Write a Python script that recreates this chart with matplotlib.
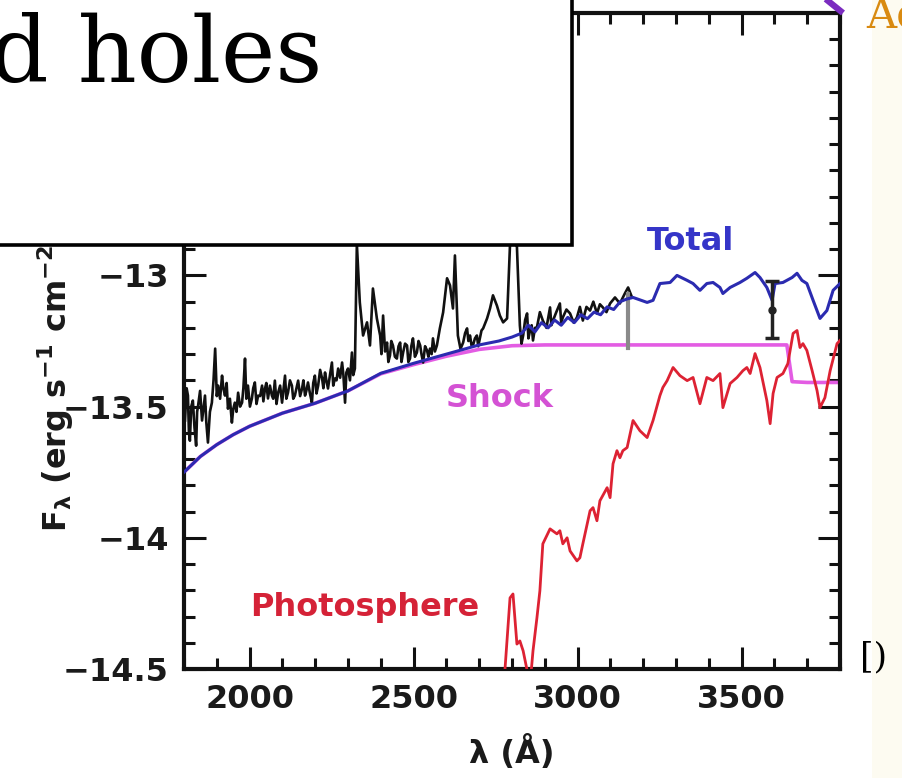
import matplotlib
matplotlib.use("Agg")
import matplotlib.pyplot as plt
from matplotlib.patches import Rectangle
from matplotlib.lines import Line2D
from matplotlib.ticker import MultipleLocator

# ---------------- data ----------------
# observed spectrum (wavelength in Angstrom, log flux)
obs_wave = [1803, 1808, 1812, 1815, 1818, 1822, 1827, 1832, 1837, 1840, 1843, 1849,
            1855, 1860, 1864, 1868, 1873, 1879, 1885, 1890, 1895, 1900, 1904, 1910,
            1916, 1920, 1925, 1930, 1934, 1940, 1946, 1950, 1955, 1960, 1965, 1971,
            1977, 1981, 1986, 1990, 1995, 2001, 2007, 2011, 2016, 2021, 2026, 2032,
            2038, 2042, 2047, 2051, 2056, 2062, 2068, 2072, 2077, 2082, 2087, 2093,
            2099, 2103, 2108, 2112, 2117, 2123, 2129, 2133, 2138, 2143, 2148, 2154,
            2160, 2164, 2169, 2173, 2178, 2184, 2190, 2194, 2199, 2204, 2209, 2215,
            2221, 2225, 2230, 2234, 2239, 2245, 2251, 2255, 2260, 2265, 2270, 2276,
            2282, 2286, 2291, 2295, 2300, 2306, 2312, 2316, 2321, 2327, 2336, 2346,
            2358, 2367, 2376, 2388, 2398, 2402, 2407, 2413, 2419, 2423, 2428, 2432,
            2437, 2443, 2449, 2454, 2459, 2463, 2468, 2474, 2480, 2484, 2489, 2493,
            2498, 2504, 2510, 2515, 2520, 2524, 2529, 2535, 2541, 2545, 2550, 2555,
            2559, 2565, 2571, 2580, 2590, 2602, 2611, 2620, 2626, 2635, 2643, 2651,
            2657, 2663, 2667, 2672, 2677, 2681, 2687, 2693, 2697, 2702, 2707, 2712,
            2724, 2733, 2742, 2754, 2763, 2773, 2785, 2794, 2803, 2815, 2824, 2829,
            2834, 2840, 2846, 2850, 2855, 2860, 2864, 2870, 2876, 2885, 2894, 2905,
            2916, 2920, 2925, 2935, 2946, 2950, 2955, 2966, 2977, 2988, 2998, 3007,
            3016, 3027, 3038, 3048, 3059, 3068, 3077, 3088, 3099, 3114, 3129, 3144,
            3154, 3166]
obs_flux = [-13.553, -13.430, -13.458, -13.600, -13.630, -13.500, -13.477, -13.580,
            -13.649, -13.520, -13.496, -13.440, -13.553, -13.500, -13.458, -13.560,
            -13.637, -13.520, -13.485, -13.400, -13.279, -13.460, -13.420, -13.470,
            -13.382, -13.430, -13.458, -13.410, -13.508, -13.470, -13.561, -13.510,
            -13.485, -13.520, -13.447, -13.500, -13.485, -13.430, -13.317, -13.470,
            -13.420, -13.500, -13.469, -13.430, -13.408, -13.490, -13.458, -13.460,
            -13.420, -13.480, -13.431, -13.410, -13.469, -13.420, -13.458, -13.470,
            -13.401, -13.490, -13.447, -13.420, -13.485, -13.440, -13.382, -13.470,
            -13.447, -13.400, -13.420, -13.470, -13.458, -13.430, -13.401, -13.460,
            -13.431, -13.400, -13.458, -13.440, -13.408, -13.450, -13.485, -13.410,
            -13.382, -13.450, -13.420, -13.360, -13.393, -13.430, -13.370, -13.400,
            -13.431, -13.380, -13.332, -13.420, -13.393, -13.400, -13.355, -13.390,
            -13.332, -13.380, -13.485, -13.370, -13.355, -13.400, -13.294, -13.380,
            -13.355, -12.880, -13.103, -13.229, -13.179, -13.267, -13.050, -13.164,
            -13.229, -13.300, -13.153, -13.290, -13.256, -13.330, -13.305, -13.250,
            -13.267, -13.310, -13.317, -13.270, -13.256, -13.330, -13.294, -13.260,
            -13.267, -13.330, -13.317, -13.270, -13.240, -13.310, -13.294, -13.250,
            -13.267, -13.300, -13.332, -13.270, -13.286, -13.310, -13.279, -13.300,
            -13.240, -13.290, -13.267, -13.202, -13.141, -13.011, -13.038, -13.126,
            -12.924, -13.229, -13.280, -13.256, -13.220, -13.202, -13.250, -13.229,
            -13.270, -13.267, -13.240, -13.229, -13.270, -13.240, -13.210, -13.202,
            -13.164, -13.126, -13.076, -13.115, -13.153, -13.179, -13.164, -12.880,
            -12.870, -12.890, -13.191, -13.260, -13.229, -13.170, -13.145, -13.240,
            -13.210, -13.190, -13.248, -13.200, -13.198, -13.140, -13.172, -13.200,
            -13.122, -13.190, -13.172, -13.140, -13.107, -13.180, -13.160, -13.130,
            -13.145, -13.180, -13.160, -13.120, -13.172, -13.120, -13.134, -13.100,
            -13.145, -13.110, -13.122, -13.140, -13.107, -13.084, -13.107, -13.069,
            -13.046, -13.084]

# total model (shock + photosphere)
total_wave = [1800, 1850, 1900, 1950, 2000, 2100, 2200, 2300, 2400, 2500, 2600, 2700,
              2760, 2800, 2830, 2850, 2870, 2890, 2910, 2930, 2950, 2970, 2990, 3010,
              3030, 3050, 3070, 3090, 3110, 3130, 3150, 3169, 3212, 3230, 3251, 3282,
              3303, 3334, 3352, 3373, 3394, 3413, 3434, 3443, 3465, 3495, 3516, 3541,
              3556, 3577, 3593, 3602, 3626, 3654, 3669, 3684, 3699, 3718, 3739, 3760,
              3779, 3800]
total_flux = [-13.750, -13.690, -13.645, -13.607, -13.575, -13.525, -13.487, -13.440,
              -13.373, -13.335, -13.300, -13.265, -13.250, -13.235, -13.220, -13.190,
              -13.215, -13.180, -13.200, -13.170, -13.190, -13.160, -13.180, -13.150,
              -13.165, -13.140, -13.150, -13.120, -13.130, -13.100, -13.090, -13.084,
              -13.103, -13.095, -13.031, -13.027, -13.000, -13.019, -13.031, -13.057,
              -13.031, -13.027, -13.046, -13.069, -13.046, -13.027, -13.011, -12.989,
              -13.008, -13.046, -13.095, -13.031, -13.027, -13.008, -12.992, -13.019,
              -13.031, -13.095, -13.164, -13.134, -13.057, -13.031]

# accretion shock component
shock_wave = [1800, 1850, 1900, 1950, 2000, 2100, 2200, 2300, 2400, 2500, 2600, 2700,
              2800, 2900, 3000, 3200, 3400, 3600, 3638, 3654, 3700, 3800]
shock_flux = [-13.750, -13.690, -13.645, -13.607, -13.575, -13.525, -13.487, -13.440,
              -13.375, -13.340, -13.308, -13.282, -13.268, -13.265, -13.265, -13.265,
              -13.265, -13.265, -13.265, -13.405, -13.408, -13.408]

# stellar photosphere component
phot_wave = [2773, 2794, 2803, 2815, 2824, 2834, 2855, 2864, 2876, 2885, 2894, 2916,
             2937, 2946, 2955, 2968, 2977, 2998, 3007, 3016, 3038, 3047, 3059, 3068,
             3090, 3099, 3108, 3120, 3129, 3138, 3151, 3169, 3190, 3212, 3230, 3251,
             3260, 3273, 3291, 3312, 3334, 3352, 3373, 3394, 3413, 3434, 3443, 3465,
             3486, 3504, 3516, 3526, 3541, 3556, 3577, 3587, 3596, 3608, 3626, 3641,
             3657, 3669, 3678, 3687, 3699, 3715, 3730, 3739, 3754, 3770, 3791, 3800]
phot_flux = [-14.600, -14.229, -14.214, -14.405, -14.393, -14.431, -14.560, -14.431,
             -14.305, -14.202, -14.023, -13.966, -13.985, -13.973, -14.023, -14.000,
             -14.050, -14.088, -14.076, -14.023, -13.897, -13.885, -13.935, -13.859,
             -13.809, -13.847, -13.718, -13.668, -13.695, -13.668, -13.656, -13.553,
             -13.592, -13.618, -13.553, -13.458, -13.427, -13.401, -13.351, -13.382,
             -13.401, -13.389, -13.489, -13.389, -13.401, -13.374, -13.504, -13.412,
             -13.389, -13.363, -13.351, -13.374, -13.298, -13.351, -13.477, -13.565,
             -13.450, -13.389, -13.374, -13.336, -13.221, -13.210, -13.275, -13.260,
             -13.286, -13.363, -13.439, -13.504, -13.466, -13.363, -13.260, -13.248]

# error bars on the observed flux
grey_bar_wave = 3154
grey_bar_range = (-13.275, -13.069)
err_wave = 3593
err_flux = -13.13
err_size = 0.11

x_ticks = [2000, 2500, 3000, 3500]
y_ticks = [-14.5, -14.0, -13.5, -13.0]
y_tick_labels = ['\u221214.5', '\u221214', '\u221213.5', '\u221213']

# ---------------- figure ----------------
W, H = 903, 778
plt.rcParams['mathtext.fontset'] = 'custom'
plt.rcParams['mathtext.rm'] = 'DejaVu Sans:bold'
plt.rcParams['mathtext.it'] = 'DejaVu Sans:bold'
plt.rcParams['mathtext.bf'] = 'DejaVu Sans:bold'
plt.rcParams['mathtext.default'] = 'rm'

fig = plt.figure(figsize=(W / 100, H / 100), dpi=100)
fig.patch.set_facecolor('white')


def fx(px):
    return px / W


def fy(py):
    return 1 - py / H


# cream slide background strip on the right
fig.add_artist(Rectangle((fx(872), 0), 1 - fx(872), 1, transform=fig.transFigure,
                         facecolor='#fdfbf1', edgecolor='none', zorder=-1))

ax = fig.add_axes([fx(184), fy(669), fx(840) - fx(184), fy(13) - fy(669)])
ax.set_facecolor('white')

sans = dict(family='DejaVu Sans', weight='bold')
fs = 23

ax.plot(shock_wave, shock_flux, color='#e35ce3', lw=2.6, zorder=2)
ax.plot(phot_wave, phot_flux, color='#dd2233', lw=2.0, zorder=3)
ax.plot(obs_wave, obs_flux, color='#111111', lw=1.9, zorder=4)
ax.plot(total_wave, total_flux, color='#2b2bb0', lw=2.2, zorder=5)

ax.plot([grey_bar_wave, grey_bar_wave], grey_bar_range, color='#8a8a8a', lw=3, zorder=4)
ax.errorbar([err_wave], [err_flux], yerr=[[err_size], [err_size]], fmt='o',
            color='#222222', ms=5, capsize=5, elinewidth=2.5, capthick=2.5, zorder=6)

ax.text(3343, -12.87, 'Total', color='#3535c8', fontsize=fs, ha='center', va='center', **sans)
ax.text(2763, -13.469, 'Shock', color='#d452d4', fontsize=fs, ha='center', va='center', **sans)
ax.text(2352, -14.267, 'Photosphere', color='#d52237', fontsize=fs, ha='center', va='center', **sans)

ax.set_xlim(1800, 3800)
ax.set_ylim(-14.5, -12.0)
ax.set_xticks(x_ticks)
ax.set_yticks(y_ticks)
ax.set_yticklabels(y_tick_labels)
ax.xaxis.set_minor_locator(MultipleLocator(100))
ax.yaxis.set_minor_locator(MultipleLocator(0.1))
ax.tick_params(which='both', direction='in', top=True, right=True, width=2.2, color='#111111')
ax.tick_params(which='major', length=16, pad=11, labelsize=fs)
ax.tick_params(which='minor', length=8)
for lab in ax.get_xticklabels() + ax.get_yticklabels():
    lab.set_fontfamily('DejaVu Sans')
    lab.set_fontweight('bold')
    lab.set_color('#1a1a1a')
for sp in ax.spines.values():
    sp.set_linewidth(3.0)
    sp.set_color('#111111')

ax.set_xlabel('\u03bb (\u00c5)', fontsize=fs, labelpad=14, color='#1a1a1a', **sans)
fig.text(fx(55), fy(345), r'F$_{\lambda}$ (erg s$^{-1}$ cm$^{-2}$ Å$^{-1}$)', rotation=90,
         ha='center', va='center', fontsize=fs, color='#1a1a1a', **sans)

# slide overlay: white title box with serif text
fig.add_artist(Rectangle((fx(-10), fy(245)), fx(572) + fx(10), fy(-10) - fy(245),
                         transform=fig.transFigure, facecolor='white', edgecolor='black',
                         lw=2.6, zorder=10))
fig.text(fx(322), fy(82), 'nd holes', ha='right', va='baseline', fontsize=66,
         family='DejaVu Serif', color='black', zorder=11)

# purple pointer reaching the plot corner
fig.add_artist(Line2D([fx(822), fx(843)], [fy(-4), fy(13)], transform=fig.transFigure,
                      color='#7b2cc0', lw=4.5, solid_capstyle='butt', zorder=11))
fig.text(fx(866), fy(27), 'Ac', ha='left', va='baseline', fontsize=30,
         family='DejaVu Serif', color='#d98a10', zorder=11)
fig.text(fx(860), fy(667), '[)', ha='left', va='baseline', fontsize=25,
         family='DejaVu Serif', color='black', zorder=11)

fig.savefig('out.png', dpi=100)
